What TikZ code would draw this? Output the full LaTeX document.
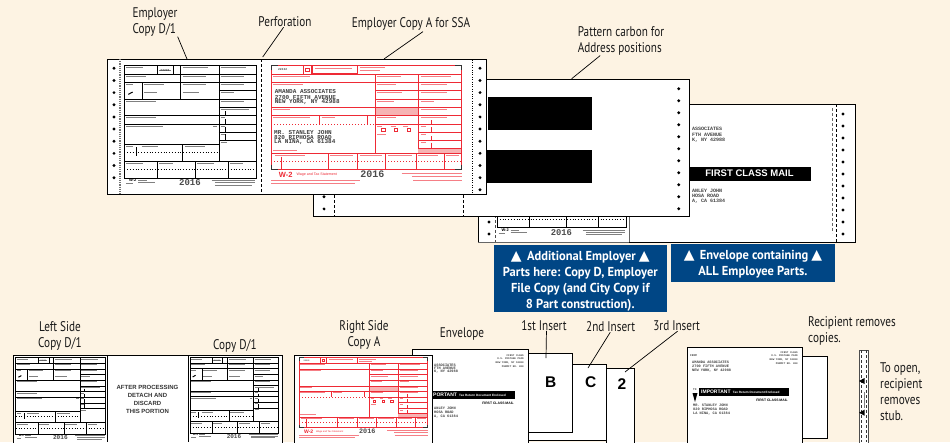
\documentclass[tikz,border=0pt]{standalone}
\usepackage{fontspec}
\setmainfont{PT Sans}
\newfontfamily\labelfont[FakeStretch=0.8]{PT Sans}
\newfontfamily\boxfont[FakeStretch=0.96]{PT Sans}
\newfontfamily\slabfont{Liberation Mono}
\newfontfamily\headfont{Liberation Sans}
\newfontfamily\symfont{DejaVu Sans}
\definecolor{paper}{HTML}{FDF3E3}
\definecolor{bluebox}{HTML}{004685}
\definecolor{formred}{HTML}{EE2A35}
\definecolor{formpink}{HTML}{F6B3B3}
\newcommand{\uptri}{{\symfont\fontsize{14}{16}\selectfont ▲}}
\tikzset{
    sheet/.style={draw=black,fill=white,line width=0.9pt},
    label/.style={font=\labelfont\fontsize{14}{16}\selectfont,inner sep=0pt,align=center,text=black!90},
    leftlabel/.style={label,align=left,anchor=north west},
    leader/.style={draw=black,line width=0.7pt},
    blueinfo/.style={font=\boxfont\bfseries\fontsize{13}{16}\selectfont,text=white,align=center,inner sep=0pt},
    tiny/.style={font=\slabfont\bfseries\fontsize{#1}{#1}\selectfont,inner sep=0pt,anchor=west,text=black!75},
    tiny/.default=3.6,
    formline/.style={draw=black,line width=0.9pt},
    redline/.style={draw=formred,line width=0.7pt},
    greek/.style={draw=black!50,line width=0.5pt},
    redgreek/.style={draw=formred!60,line width=0.5pt},
    insertmark/.style={font=\headfont\bfseries\fontsize{15.5}{16}\selectfont,inner sep=0pt},
}
\newcommand{\holes}[4]{\foreach \k in {1,...,#3} \fill (#1,#2+#4*\k-#4) circle (1.6);}
\newcommand{\copyd}[4]{
\begin{scope}[shift={(#1,#2)},scale=#3,transform shape,x=0.3333pt,y=-0.3333pt,shift={(-73,-197)}]
    \draw[formline] (73,197) rectangle (470,535);
    \foreach \ya/\xa/\xb in {222/73/470,247/73/470,272/357/470,297/73/470,322/357/470,347/73/470,372/73/470,397/357/470,422/357/470,434/73/357,484/73/470}
        \draw[formline] (\xa,\ya) -- (\xb,\ya);
    \foreach \xa/\ya/\yb in {357/197/484,241/197/297,127/247/297,172/197/222,248/434/484,172/484/535,287/484/535,385/484/535,220/197/222}
        \draw[formline] (\xa,\ya) -- (\xa,\yb);
    \draw[line width=0.8pt,dotted] (73,458) -- (357,458);
    \draw[line width=0.8pt,dotted] (73,508) -- (470,508);
    \foreach \xa/\ya/\yb in {110/442/468,378/333/347,378/358/372,378/380/397,378/403/422}
        \draw[line width=1pt] (\xa,\ya) -- (\xa,\yb);
    \draw[line width=1pt] (85,283) -- (98,276);
    \foreach \gx/\gy/\gw in {78/203/50,178/210/35,248/203/75,362/203/75,78/228/60,248/228/70,362/228/70,78/253/20,132/253/60,248/253/70,362/253/70,132/278/40,248/278/50,362/278/40,78/303/90,362/303/70,362/328/85,78/353/90,78/378/110,340/378/12,362/353/14,362/378/14,362/403/14,362/428/20,78/440/20,125/440/50,254/440/60,78/490/50,178/490/40,292/490/50,390/490/40,115/541/25,115/547/50,335/541/130,345/548/120,345/555/110,78/551/20}
        \draw[greek] (\gx,\gy) -- ++(\gw,0);
    \node[tiny=3,anchor=center] (#4code) at (195,210) {22222};
    \node[font=\headfont\bfseries\fontsize{4}{4}\selectfont,inner sep=0pt] (#4name) at (98,541) {W-2};
    \node[font=\slabfont\bfseries\fontsize{9}{9}\selectfont,inner sep=0pt,text=black!70] (#4year) at (270,548) {2016};
\end{scope}
}
\newcommand{\copya}[5]{
\begin{scope}[shift={(#1,#2)},scale=#3,transform shape,x=0.3333pt,y=-0.3333pt,shift={(-514,-197)}]
    \fill[formpink] (826,322) rectangle (955,347);
    \fill[formpink] (955,445) rectangle (1085,460);
    \draw[redline] (514,197) rectangle (1085,508);
    \foreach \ya/\xa/\xb in {222/514/1085,247/514/1085,272/826/1085,297/826/1085,322/514/1085,347/514/1085,372/826/1085,397/955/1085,422/955/1085,445/955/1085,460/514/1085}
        \draw[redline] (\xa,\ya) -- (\xb,\ya);
    \foreach \xa/\ya/\yb in {826/222/460,955/222/445,636/197/222,658/347/372,803/347/372,684/460/508,773/460/508,857/460/508,948/460/508,1032/460/508,610/197/222}
        \draw[redline] (\xa,\ya) -- (\xa,\yb);
    \draw[draw=formred,line width=1.2pt] (636,197) rectangle (772,222);
    \draw[draw=formred,line width=1pt,dotted] (514,372) -- (955,372);
    \draw[draw=formred,line width=1pt,dotted] (514,484) -- (1085,484);
    \foreach \xa/\ya/\yb in {545/470/510,994/360/372,994/382/397,994/408/422,994/428/445}
        \draw[draw=formred,line width=0.8pt] (\xa,\ya) -- (\xa,\yb);
    \foreach \xa in {850,888,926}
        \draw[draw=formred,line width=0.8pt,fill=white] (\xa-5,385) rectangle (\xa+5,395);
    \draw[draw=formred,line width=0.8pt] (617,204) rectangle (628,215);
    \foreach \gx/\gy/\gw in {645/204/110,780/203/75,780/212/60,520/228/110,520/253/90,520/328/50,520/352/110,665/352/40,832/228/70,962/228/90,832/253/55,962/253/80,832/278/75,962/278/80,832/303/50,962/303/40,962/328/80,832/352/55,962/352/80,832/378/15,872/378/15,910/378/15,832/402/25,962/378/15,962/402/15,962/428/15,520/450/70,525/466/90,690/466/70,780/466/65,865/466/70,955/466/60,1038/466/40,514/542/110,514/551/250,580/542/200,905/520/180,936/530/150,940/541/145}
        \draw[redgreek] (\gx,\gy) -- ++(\gw,0);
    \node[tiny=3,anchor=center,text=black!70] (#4code) at (548,209) {22222};
    #5
    \node[font=\headfont\bfseries\fontsize{7.5}{7.5}\selectfont,inner sep=0pt,text=formred] (#4name) at (557,525) {W-2};
    \node[font=\headfont\fontsize{3.6}{3.6}\selectfont,inner sep=0pt,anchor=west,text=formred] (#4title) at (589,525) {Wage and Tax Statement};
    \node[font=\slabfont\bfseries\fontsize{10}{10}\selectfont,inner sep=0pt,text=black!70] (#4year) at (817,524) {2016};
    \foreach \cx/\cy/\sx/\sy in {514/197/1/1,1085/197/-1/1,514/508/1/-1,1085/508/-1/-1}
        \draw[line width=1pt,black!80] (\cx+\sx*0,\cy+\sy*14) -- (\cx,\cy) -- (\cx+\sx*20,\cy);
\end{scope}
}
\begin{document}
\begin{tikzpicture}[x=1pt,y=-1pt]
    \useasboundingbox (0,0) rectangle (950,442);
    \fill[paper] (0,0) rectangle (950,442);

    \draw[sheet] (478,104) rectangle (855,242);
    \draw[draw=black!60,line width=0.9pt] (478,242) -- (629,242);
    \draw[draw=black!60,line width=0.9pt] (629,104) -- (629,242);
    \draw[black,line width=0.8pt,densely dashed] (836.7,104) -- (836.7,242);
    \draw[black!60,line width=0.6pt,densely dashed] (832,108) -- (832,233);
    \draw[black!70,line width=0.7pt,densely dashed] (495,200) -- (495,242);
    \holes{843}{114}{11}{12}
    \holes{489}{198}{4}{12}
    \copyd{497}{117.5}{0.98}{rear}
    \node[tiny=5] (envfrom1) at (692,129) {ASSOCIATES};
    \node[tiny=5] (envfrom2) at (692,134.5) {FTH AVENUE};
    \node[tiny=5] (envfrom3) at (692,140) {K, NY 42988};
    \node[tiny=5] (envto1) at (692,191) {ANLEY JOHN};
    \node[tiny=5] (envto2) at (692,196) {HOSA ROAD};
    \node[tiny=5] (envto3) at (692,201) {A, CA 61384};
    \fill (689,167) rectangle (811,180.5);
    \node[font=\headfont\bfseries\fontsize{9.5}{9.5}\selectfont,text=white,inner sep=0pt] (firstclass) at (749.5,173.7) {FIRST CLASS MAIL};

    \draw[sheet] (313,79) rectangle (689,216.7);
    \draw[black,line width=0.7pt,densely dashed] (334,190) -- (334,216);
    \draw[black,line width=0.7pt,densely dashed] (463,190) -- (463,216);
    \holes{324}{196.7}{2}{12.2}
    \holes{678.7}{88.7}{11}{12}
    \fill (488,97) rectangle (592,130);
    \fill (486,150) rectangle (592,183);

    \draw[sheet] (107.7,59) rectangle (486.7,194.7);
    \draw[black,line width=0.9pt,densely dashed] (261.7,59) -- (261.7,194.7);
    \draw[black!55,line width=1.6pt,dash pattern=on 1.2pt off 1pt] (120,59) -- (120,194);
    \draw[black,line width=0.4pt,dotted] (471.7,60) -- (471.7,194);
    \holes{114}{68.3}{10}{12.15}
    \holes{480}{68.3}{11}{12.15}
    \copyd{124.3}{65.7}{1}{top}
    \copya{271.3}{65.7}{1}{topa}{
        \node[tiny=6] (topaco1) at (524,273) {AMANDA ASSOCIATES};
        \node[tiny=6] (topaco2) at (524,291) {2700 FIFTH AVENUE};
        \node[tiny=6] (topaco3) at (524,306) {NEW YORK, NY 42988};
        \node[tiny=6] (topato1) at (522,396) {MR. STANLEY JOHN};
        \node[tiny=6] (topato2) at (522,411) {820 RIPHOSA ROAD};
        \node[tiny=6] (topato3) at (522,426) {LA NINA, CA 61384};
    }

    \node[label,align=left] (lblemployer) at (155,22.5) {Employer\\Copy D/1};
    \node[label] (lblperf) at (285,22) {Perforation};
    \node[label] (lblcopya) at (411,24) {Employer Copy A for SSA};
    \node[label,align=left] (lblcarbon) at (621,41) {Pattern carbon for\\Address positions};
    \coordinate (tipcopyd) at (187,59);
    \coordinate (tipperf) at (262.7,57);
    \coordinate (tipcopya) at (384,59);
    \coordinate (tipcarbon) at (571.7,78.7);
    \draw[leader] (lblemployer.-32) -- (tipcopyd);
    \draw[leader] (lblperf.-105) -- (tipperf);
    \draw[leader] (lblcopya.-90) ++(12,1) -- (tipcopya);
    \draw[leader] (lblcarbon.-145) -- (tipcarbon);

    \fill[bluebox] (494,245) rectangle (666.7,312);
    \fill[bluebox] (671,244) rectangle (835,281.7);
    \node[blueinfo] (boxemployer) at (580.3,281) {\uptri\ \,Additional Employer \uptri\\Parts here: Copy D, Employer\\File Copy (and City Copy if\\8 Part construction).};
    \node[blueinfo] (boxenvelope) at (753,264.5) {\uptri\ \,Envelope containing \uptri\\ALL Employee Parts.};

    \draw[sheet] (13.3,355.7) rectangle (282.7,460);
    \draw[line width=0.9pt] (107,355.7) -- (107,442);
    \draw[line width=0.9pt] (188,355.7) -- (188,442);
    \copyd{15.7}{357.7}{0.68}{left}
    \copyd{190}{357.7}{0.67}{right}
    \node[font=\headfont\bfseries\fontsize{6}{8}\selectfont,align=center,inner sep=0pt,text=black!80] (discard) at (147.5,399.7) {AFTER PROCESSING\\DETACH AND\\DISCARD\\THIS PORTION};
    \node[label] (lblleft) at (60,336) {Left Side\\Copy D/1};
    \node[label] (lblmiddle) at (235,345.7) {Copy D/1};
    \node[label] (lblright) at (364,335) {Right Side\\Copy A};

    \draw[sheet] (606.7,368) rectangle (634,450);
    \draw[sheet] (528,364) rectangle (606.7,440);
    \draw[sheet] (528,353) rectangle (572,432.3);
    \draw[sheet] (412.7,349.7) rectangle (528,460);
    \node[tiny] (midfrom1) at (434,365) {ASSOCIATES};
    \node[tiny] (midfrom2) at (434,368.5) {FTH AVENUE};
    \node[tiny] (midfrom3) at (434,372) {K, NY 42988};
    \node[tiny=2.6,anchor=east] (midclass1) at (524,355.7) {FIRST CLASS};
    \node[tiny=2.6,anchor=east] (midclass2) at (524,358.7) {U.S. POSTAGE PAID};
    \node[tiny=2.6,anchor=east] (midclass3) at (524,362.7) {NEW YORK, NY 10000};
    \node[tiny=2.6,anchor=east] (midclass4) at (524,366.7) {PERMIT NO. 000};
    \fill (432,391) rectangle (514.5,399);
    \node[font=\headfont\bfseries\fontsize{5}{5}\selectfont,text=white,inner sep=0pt,anchor=west] (midimportant) at (433,395) {PORTANT};
    \node[font=\headfont\bfseries\fontsize{3.1}{3}\selectfont,text=white,inner sep=0pt,anchor=west] (midreturn) at (459,395.2) {Tax Return Document Enclosed};
    \node[font=\headfont\bfseries\fontsize{3.4}{4}\selectfont,inner sep=0pt,anchor=east] (midfirst) at (514,403.5) {FIRST CLASS MAIL};
    \node[tiny] (midto1) at (434,408.5) {ANLEY JOHN};
    \node[tiny] (midto2) at (434,412.5) {HOSA ROAD};
    \node[tiny] (midto3) at (434,416.5) {A, CA 61384};
    \draw[sheet] (294,355.7) rectangle (432.7,460);
    \copya{299}{357.7}{0.676}{lowa}{}

    \node[insertmark] (markb) at (550.7,382) {B};
    \node[insertmark] (markc) at (590.7,382) {C};
    \node[insertmark] (marktwo) at (622,384) {2};
    \node[label] (lblenvelope) at (462,334) {Envelope};
    \node[label] (lblfirst) at (544,325.7) {1st Insert};
    \node[label] (lblsecond) at (610.7,327) {2nd Insert};
    \node[label] (lblthird) at (676.7,326) {3rd Insert};
    \coordinate (tipfirst) at (546,358);
    \coordinate (tipsecond) at (588,368);
    \coordinate (tipthird) at (625,372);
    \draw[leader] (lblfirst.-65) -- (tipfirst);
    \draw[leader] (lblsecond.-95) -- (tipsecond);
    \draw[leader] (lblthird.-80) -- (tipthird);

    \draw[sheet] (780,356.7) rectangle (827.7,438.3);
    \draw[sheet] (687.3,347.7) rectangle (802.3,460);
    \node[tiny=2.8] (openfrom) at (690,355.5) {FROM};
    \node[tiny] (opencomp1) at (692,362.5) {AMANDA ASSOCIATES};
    \node[tiny] (opencomp2) at (692,366.5) {2700 FIFTH AVENUE};
    \node[tiny] (opencomp3) at (692,370.5) {NEW YORK, NY 42988};
    \node[tiny=2.6,anchor=east] (openclass1) at (798,353) {FIRST CLASS};
    \node[tiny=2.6,anchor=east] (openclass2) at (798,356) {U.S. POSTAGE PAID};
    \node[tiny=2.6,anchor=east] (openclass3) at (798,360) {NEW YORK, NY 10000};
    \node[tiny=2.6,anchor=east] (openclass4) at (798,364) {PERMIT NO. 000};
    \fill (699,388) rectangle (788.5,396);
    \node[font=\headfont\bfseries\fontsize{5}{5}\selectfont,text=white,inner sep=0pt,anchor=west] (openimportant) at (701,392) {IMPORTANT};
    \node[font=\headfont\bfseries\fontsize{3.1}{3}\selectfont,text=white,inner sep=0pt,anchor=west] (openreturn) at (732.7,392.2) {Tax Return Document Enclosed};
    \node[tiny=2.8] (opento) at (693,390) {TO};
    \fill (692.5,393) -- (697.5,393) -- (695,402) -- cycle;
    \node[font=\headfont\bfseries\fontsize{3.4}{4}\selectfont,inner sep=0pt,anchor=east] (openfirst) at (788,400.7) {FIRST CLASS MAIL};
    \node[tiny] (opento1) at (693,405.7) {MR. STANLEY JOHN};
    \node[tiny] (opento2) at (693,409.7) {820 RIPHOSA ROAD};
    \node[tiny] (opento3) at (693,413.7) {LA NINA, CA 61384};
    \node[leftlabel] (lblremoves) at (808,316) {Recipient removes\\copies.};
    \draw[draw=black!70,fill=white,line width=0.9pt] (859,350) rectangle (868,460);
    \draw[black!80,line width=0.8pt,densely dashed] (861,350) -- (861,442);
    \draw[black!80,line width=0.8pt,densely dashed] (866,350) -- (866,442);
    \draw[greek] (864,392) -- (864,408);
    \fill (864.5,378) -- (864.5,384) -- (859,381) -- cycle;
    \fill (864.5,409.7) -- (864.5,415.7) -- (859,412.7) -- cycle;
    \node[leftlabel] (lblopen) at (880,362) {To open,\\recipient\\removes\\stub.};
\end{tikzpicture}
\end{document}
